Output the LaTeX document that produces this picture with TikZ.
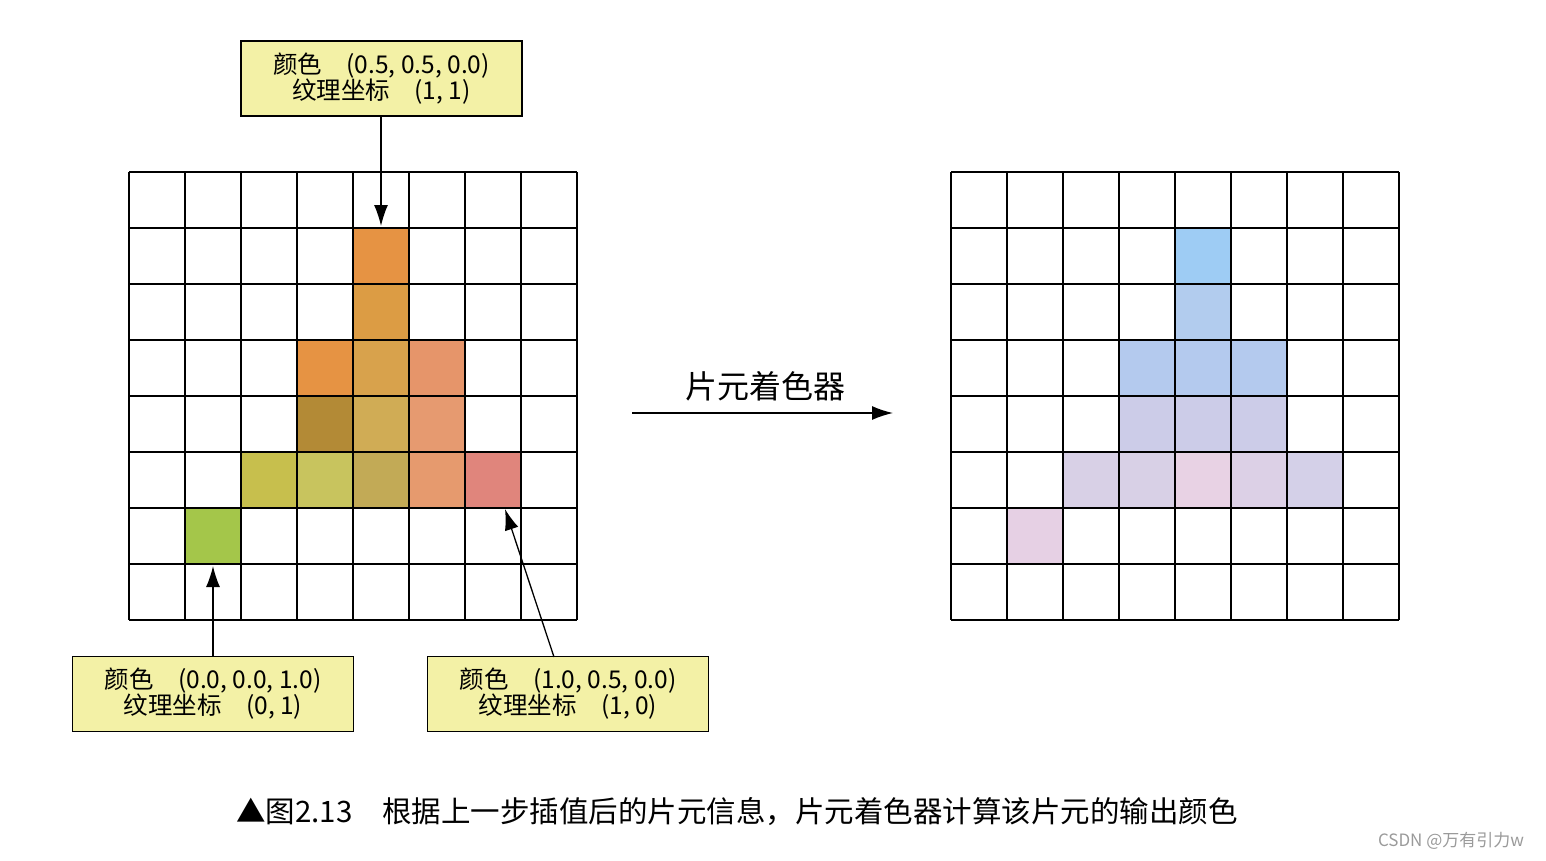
\documentclass[tikz,border=0pt]{standalone}
\usepackage{fontspec}
\setmainfont{Noto Sans CJK SC}
\usepackage{tikz}
\usetikzlibrary{arrows.meta}
\usepackage{xcolor}
\definecolor{boxyellow}{HTML}{F3F1A6}
\definecolor{markgray}{HTML}{9A9A9A}

\begin{document}
\begin{tikzpicture}[x=1pt,y=-1pt]
  \tikzset{gridline/.style={draw=black,line width=1.7pt}}
  \tikzset{infobox/.style={draw=black,line width=1.5pt,fill=boxyellow,minimum width=281pt,minimum height=75pt,align=center,inner sep=0pt,font=\fontsize{24.5}{26}\selectfont}}
  \tikzset{pointer/.style={draw=black,line width=1.3pt,-{Latex[length=21pt,width=14pt]}}}
  \useasboundingbox (0,0) rectangle (1546,860);
  % fragments before shading
  \foreach \c/\r/\hex in {4/1/E69343,4/2/DC9C44,3/3/E69343,4/3/D8A24C,5/3/E6956A,
      3/4/B38A36,4/4/D0AC55,5/4/E69A70,2/5/C7BF4D,3/5/C8C45E,4/5/C2AA56,5/5/E69A6E,
      6/5/E0857C,1/6/A4C64A} {
    \definecolor{cellcolor}{HTML}{\hex}
    \fill[cellcolor] ({129+56*\c},{172+56*\r}) rectangle ++(56,56);
  }
  % fragments after shading
  \foreach \c/\r/\hex in {4/1/9ECCF4,4/2/B2CCEE,3/3/B4CAEE,4/3/B4CAEE,5/3/B4CAEE,
      3/4/CCCCE8,4/4/CCCCE8,5/4/CCCCE8,2/5/D8D0E6,3/5/D8D0E6,4/5/E8D2E4,5/5/DCD0E6,
      6/5/D4D0E8,1/6/E6D0E4} {
    \definecolor{cellcolor}{HTML}{\hex}
    \fill[cellcolor] ({951+56*\c},{172+56*\r}) rectangle ++(56,56);
  }
  % the two grids
  \foreach \gx in {129,951} {
    \foreach \i in {0,...,8} {
      \draw[gridline] ({\gx+56*\i},172) -- ({\gx+56*\i},620);
      \draw[gridline] (\gx,{172+56*\i}) -- ({\gx+448},{172+56*\i});
    }
  }
  % vertex info boxes
  \node[infobox] (boxtop) at (381.5,78.5) {颜色\quad(0.5, 0.5, 0.0)\\纹理坐标\quad(1, 1)};
  \node[infobox] (boxleft) at (213,694) {颜色\quad(0.0, 0.0, 1.0)\\纹理坐标\quad(0, 1)};
  \node[infobox] (boxright) at (568,694) {颜色\quad(1.0, 0.5, 0.0)\\纹理坐标\quad(1, 0)};
  \coordinate (tiptop) at (381,226);
  \coordinate (tipleft) at (213,566);
  \coordinate (tipright) at (505,509);
  \coordinate (tailright) at (554,657);
  \draw[pointer] (boxtop.south -| tiptop) -- (tiptop);
  \draw[pointer] (boxleft.north -| tipleft) -- (tipleft);
  \draw[pointer] (tailright) -- (tipright);
  % shader step
  \coordinate (stepfrom) at (632,413);
  \coordinate (stepto) at (893,413);
  \draw[pointer,line width=1.5pt] (stepfrom) -- (stepto);
  \node[font=\fontsize{32}{34}\selectfont] (steplabel) at (765,386) {片元着色器};
  % caption
  \node[font=\fontsize{29.5}{32}\selectfont] (caption) at (737,812) {▲图2.13\quad 根据上一步插值后的片元信息，片元着色器计算该片元的输出颜色};
  \node[font=\fontsize{17}{20}\selectfont,text=markgray] (mark) at (1451,841) {CSDN @万有引力w};
\end{tikzpicture}
\end{document}
